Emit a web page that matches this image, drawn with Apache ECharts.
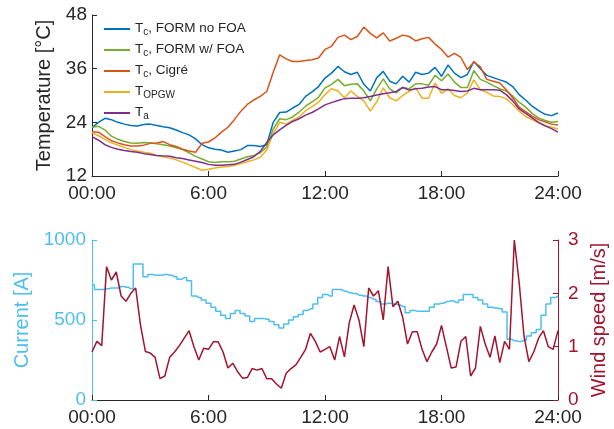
<!DOCTYPE html>
<html lang="en">
<head>
    <meta charset="UTF-8">
    <title>Temperature, current and wind speed</title>
    <style>
        html, body { margin: 0; padding: 0; background: #fff; }
    </style>
</head>
<body>
    <div id="chart" style="width: 614px;height:429px;"></div>
    <script src="https://cdn.jsdelivr.net/npm/echarts@6.0.0/dist/echarts.min.js"></script>
    <script type="text/javascript">
       var myChart = echarts.init(document.getElementById('chart'));

       // time stamps in hours: temperatures every 20 min, current / wind every 15 min
       var tempHours = [];
       for (var i = 0; i <= 72; i++) tempHours.push(i / 3);
       var powerHours = [];
       for (var j = 0; j <= 96; j++) powerHours.push(j / 4);

       var hourTicks = [0, 6, 12, 18, 24];
       var hourLabels = ['00:00', '6:00', '12:00', '18:00', '24:00'];

       // conductor temperature, FORM model without FOA
       var tcFormNoFoa = [
           22.8, 24.0, 24.9, 24.6, 24.0, 23.6,
           23.3, 23.2, 23.5, 23.6, 23.3, 23.0,
           22.8, 22.3, 21.7, 21.2, 20.3, 19.0,
           18.3, 18.0, 17.8, 17.3, 17.6, 17.9,
           18.8, 18.8, 18.6, 19.0, 24.0, 26.2,
           26.3, 27.2, 28.0, 29.8, 30.8, 32.0,
           33.9, 35.0, 36.5, 35.3, 34.7, 35.2,
           32.5, 31.0, 34.0, 35.4, 33.2, 32.6,
           34.3, 33.0, 35.2, 34.7, 35.0, 36.3,
           34.3, 36.8, 35.0, 34.0, 34.7, 37.6,
           36.0, 34.5, 34.0, 33.5, 33.0, 32.0,
           30.2, 29.0, 27.6, 26.6, 25.8, 25.5,
           26.1
       ];
       // conductor temperature, FORM model with FOA
       var tcFormFoa = [
           22.9, 23.1, 22.3, 20.9, 20.2, 19.7,
           19.4, 19.3, 19.5, 19.4, 19.2, 19.0,
           18.7, 18.3, 17.9, 17.2, 16.4, 15.8,
           15.2, 15.0, 15.2, 15.2, 15.3, 15.8,
           16.3, 16.6, 17.2, 18.5, 22.5, 24.8,
           24.6, 25.2, 26.3, 27.6, 28.6, 29.6,
           31.7, 32.5, 33.6, 32.2, 32.5, 32.6,
           31.0, 28.8, 31.5, 33.7, 31.5, 30.6,
           31.8, 31.5, 32.6, 32.6, 32.3, 34.5,
           33.3, 34.8, 33.0, 31.8, 31.8, 35.6,
           33.6, 33.0, 32.2, 31.5, 31.0, 29.9,
           28.5, 27.4, 26.0, 25.0, 24.4, 24.0,
           24.2
       ];
       // conductor temperature, Cigré model
       var tcCigre = [
           21.9, 21.8, 20.8, 19.9, 19.4, 19.0,
           18.7, 18.7, 18.9, 19.3, 19.4, 19.7,
           19.0, 18.6, 18.0, 17.6, 17.3, 19.3,
           19.6, 20.5, 21.8, 22.9, 24.6, 26.5,
           28.0, 29.0, 29.8, 30.9, 35.2, 39.1,
           38.2, 37.6, 37.6, 37.8, 38.0, 38.4,
           40.3, 41.0, 43.0, 43.5, 42.5, 43.2,
           45.3, 43.9, 42.9, 44.0, 42.2, 42.8,
           43.5, 43.2, 42.2, 42.7, 43.0, 41.5,
           40.3, 38.6, 39.4, 38.5, 35.8, 37.5,
           36.4, 33.6, 33.2, 32.8, 31.3, 29.5,
           27.4, 26.4, 25.4, 24.6, 24.1, 23.6,
           23.4
       ];
       // OPGW temperature
       var tOpgw = [
           21.7, 21.0, 20.2, 19.4, 18.9, 18.4,
           17.9, 17.6, 17.3, 17.1, 16.6, 16.3,
           16.0, 15.6, 15.1, 14.5, 13.9, 13.3,
           13.5, 13.8, 14.0, 14.1, 14.4, 14.8,
           15.2, 15.6, 16.2, 17.8, 21.5, 24.0,
           23.6, 24.5, 25.2, 26.6, 27.5, 28.5,
           30.2, 31.5, 31.0, 29.5, 31.0, 29.8,
           28.8, 26.5, 28.6, 31.7, 29.5, 28.8,
           30.0, 30.9, 31.7, 29.4, 29.4, 32.8,
           30.5, 31.5, 30.0, 29.5, 30.6, 33.5,
           31.3, 30.7, 29.9, 29.8, 29.3, 28.0,
           26.5, 25.3, 24.6, 23.9, 23.3, 22.9,
           22.5
       ];
       // ambient temperature
       var tAmbient = [
           20.8, 20.0, 19.0, 18.4, 18.0, 17.7,
           17.5, 17.3, 17.0, 16.8, 16.6, 16.5,
           16.4, 16.1, 15.9, 15.6, 15.3, 15.0,
           14.6, 14.4, 14.4, 14.5, 14.6, 15.1,
           15.7, 16.3, 17.5, 19.5, 21.2, 22.3,
           23.3, 24.2, 24.8, 25.6, 26.2, 27.0,
           27.9, 28.4, 28.9, 29.3, 29.4, 29.4,
           29.5, 29.8, 30.1, 30.4, 30.6, 30.9,
           31.8, 31.2, 31.5, 31.6, 31.9, 32.0,
           31.3, 31.3, 31.1, 30.9, 31.0, 31.6,
           31.3, 31.3, 31.3, 31.2, 30.2, 28.8,
           27.0, 26.0, 25.0, 24.0, 23.2, 22.6,
           21.8
       ];

       // line current [A]
       var current = [
           720, 690, 690, 695, 700, 700, 710, 705,
           695, 850, 850, 770, 785, 780, 780, 785,
           780, 770, 755, 765, 745, 650, 640, 625,
           605, 580, 555, 530, 510, 540, 560, 540,
           525, 490, 510, 510, 505, 490, 470, 450,
           475, 500, 520, 535, 560, 570, 600, 640,
           660, 650, 690, 690, 680, 670, 665, 655,
           650, 640, 630, 615, 600, 605, 600, 595,
           585, 545, 560, 555, 555, 555, 580, 600,
           605, 615, 620, 610, 625, 660, 660, 640,
           625, 600, 580, 575, 570, 550, 380, 370,
           365, 375, 400, 420, 440, 530, 600, 640,
           650
       ];
       // wind speed [m/s]
       var windSpeed = [
           0.9, 1.1, 1.02, 2.5, 2.25, 2.4, 1.95, 1.85,
           2.0, 2.1, 1.4, 0.91, 0.88, 0.8, 0.4, 0.45,
           0.8, 0.9, 1.02, 1.16, 1.3, 1.0, 0.75, 0.97,
           0.95, 1.09, 1.09, 0.9, 0.6, 0.69, 0.53, 0.41,
           0.42, 0.59, 0.56, 0.59, 0.4, 0.4, 0.3, 0.22,
           0.5, 0.59, 0.66, 0.8, 0.95, 1.25, 1.1, 0.9,
           0.95, 1.0, 0.75, 1.19, 0.81, 1.45, 1.78, 1.5,
           1.0, 2.1, 1.95, 2.05, 1.5, 2.5, 1.75, 1.85,
           1.55, 1.05, 1.28, 1.28, 0.95, 0.72, 0.9, 1.05,
           1.4, 1.0, 0.6, 0.62, 1.1, 1.19, 0.45, 0.6,
           1.38, 1.05, 0.8, 1.2, 0.7, 1.1, 0.95, 3.0,
           2.2, 1.2, 0.72, 0.9, 1.16, 1.3, 1.0, 0.95,
           1.3
       ];

       var tempNames = ['Tc, FORM no FOA', 'Tc, FORM w/ FOA', 'Tc, Cigré', 'TOPGW', 'Ta'];
       var legendRich = {
           'Tc, FORM no FOA': '{t|T}{s|c}{t|, FORM no FOA}',
           'Tc, FORM w/ FOA': '{t|T}{s|c}{t|, FORM w/ FOA}',
           'Tc, Cigré': '{t|T}{s|c}{t|, Cigré}',
           'TOPGW': '{t|T}{s|OPGW}',
           'Ta': '{t|T}{s|a}'
       };
       var tempColors = ['#0072BD', '#77AC30', '#D95319', '#EDB120', '#7E2F8E'];
       var tempSeries = [tcFormNoFoa, tcFormFoa, tcCigre, tOpgw, tAmbient];

       var FONT = "'Liberation Sans', Arial, Helvetica, sans-serif";
       var AXIS = '#262626';

       function pairs(xs, ys) {
           return ys.map(function (v, k) { return [xs[k], v]; });
       }
       function hourLabel(v) {
           var k = hourTicks.indexOf(v);
           return k >= 0 ? hourLabels[k] : '';
       }
       function plain(v) { return String(v); }

       var timeAxis = function (gridIndex) {
           return {
               type: 'value', gridIndex: gridIndex,
               min: 0, max: 24, interval: 6,
               axisLine: {show: true, lineStyle: {color: AXIS, width: 1}},
               axisTick: {show: true, inside: true, length: 5, lineStyle: {color: AXIS}},
               axisLabel: {color: AXIS, fontSize: 19, fontFamily: FONT, margin: 8,
                           showMinLabel: true, showMaxLabel: true, formatter: hourLabel},
               splitLine: {show: false}
           };
       };

       var series = tempSeries.map(function (vals, k) {
           return {
               name: tempNames[k], type: 'line', xAxisIndex: 0, yAxisIndex: 0,
               data: pairs(tempHours, vals), showSymbol: false,
               lineStyle: {color: tempColors[k], width: 1.5},
               itemStyle: {color: tempColors[k]}
           };
       });
       series.push({
           name: 'Current', type: 'line', xAxisIndex: 1, yAxisIndex: 1,
           data: pairs(powerHours, current), showSymbol: false, step: 'middle',
           lineStyle: {color: '#4DBEEE', width: 1.5}, itemStyle: {color: '#4DBEEE'}
       });
       series.push({
           name: 'Wind speed', type: 'line', xAxisIndex: 1, yAxisIndex: 2,
           data: pairs(powerHours, windSpeed), showSymbol: false,
           lineStyle: {color: '#A2142F', width: 1.5}, itemStyle: {color: '#A2142F'}
       });

       var option = {
           animation: false,
           textStyle: {fontFamily: FONT},
           grid: [
               {left: 92, right: 56, top: 15, height: 161, outerBoundsMode: 'none'},
               {left: 92, right: 56, top: 240, height: 160, outerBoundsMode: 'none'}
           ],
           legend: {
               data: tempNames,
               orient: 'vertical', left: 104, top: 21, padding: 0,
               itemGap: 5, itemWidth: 26, itemHeight: 2, icon: 'rect',
               formatter: function (name) { return legendRich[name]; },
               textStyle: {
                   color: AXIS,
                   rich: {
                       t: {fontSize: 13.5, lineHeight: 16, fontFamily: FONT, color: AXIS, verticalAlign: 'top'},
                       s: {fontSize: 10, lineHeight: 10, fontFamily: FONT, color: AXIS, padding: [6, 0, 0, 0]}
                   }
               }
           },
           xAxis: [timeAxis(0), timeAxis(1)],
           yAxis: [{
               type: 'value', gridIndex: 0, min: 12, max: 48, interval: 12,
               name: 'Temperature [°C]', nameLocation: 'middle', nameGap: 26,
               nameTextStyle: {color: AXIS, fontSize: 20, fontFamily: FONT},
               axisLine: {show: true, lineStyle: {color: AXIS, width: 1}},
               axisTick: {show: true, inside: true, length: 5, lineStyle: {color: AXIS}},
               axisLabel: {color: AXIS, fontSize: 19, fontFamily: FONT, margin: 5, formatter: plain},
               splitLine: {show: false}
           }, {
               type: 'value', gridIndex: 1, min: 0, max: 1000, interval: 500,
               name: 'Current [A]', nameLocation: 'middle', nameGap: 50,
               nameTextStyle: {color: '#4DBEEE', fontSize: 20, fontFamily: FONT},
               axisLine: {show: true, lineStyle: {color: '#4DBEEE', width: 1}},
               axisTick: {show: true, inside: true, length: 5, lineStyle: {color: '#4DBEEE'}},
               axisLabel: {color: '#4DBEEE', fontSize: 19, fontFamily: FONT, margin: 6, formatter: plain},
               splitLine: {show: false}
           }, {
               type: 'value', gridIndex: 1, position: 'right', min: 0, max: 3, interval: 1,
               name: 'Wind speed [m/s]', nameLocation: 'middle', nameGap: 28, nameRotate: 90,
               nameTextStyle: {color: '#A2142F', fontSize: 20, fontFamily: FONT},
               axisLine: {show: true, lineStyle: {color: '#A2142F', width: 1}},
               axisTick: {show: true, inside: true, length: 5, lineStyle: {color: '#A2142F'}},
               axisLabel: {color: '#A2142F', fontSize: 19, fontFamily: FONT, margin: 10, formatter: plain},
               splitLine: {show: false}
           }],
           series: series
       };
       myChart.setOption(option);
    </script>
</body>
</html>
